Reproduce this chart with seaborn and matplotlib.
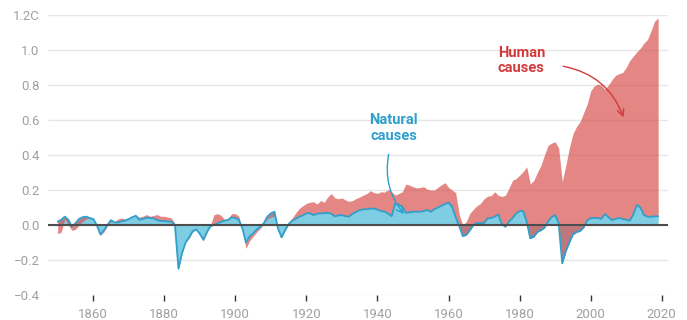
import numpy as np
import pandas as pd
import matplotlib
matplotlib.use("Agg")
import matplotlib.pyplot as plt
import seaborn as sns

# --- Data (deg C) ---
years = list(range(1850, 2020))

natural = [
    0.020, 0.030, 0.048, 0.030, -0.010, 0.010, 0.035, 0.045, 0.048, 0.040,   # 1850s
    0.035, 0.000, -0.053, -0.030, 0.000, 0.028, 0.015, 0.015, 0.022, 0.025,  # 1860s
    0.034, 0.045, 0.053, 0.030, 0.035, 0.042, 0.040, 0.038, 0.028, 0.023,   # 1870s
    0.023, 0.020, 0.019, 0.000, -0.250, -0.160, -0.100, -0.070, -0.035, -0.025,  # 1880s
    -0.050, -0.084, -0.040, -0.006, 0.000, 0.010, 0.019, 0.025, 0.030, 0.044,  # 1890s
    0.040, 0.030, -0.020, -0.100, -0.065, -0.048, -0.025, -0.010, 0.010, 0.048,  # 1900s
    0.067, 0.076, -0.020, -0.070, -0.030, 0.005, 0.025, 0.035, 0.048, 0.055,  # 1910s
    0.067, 0.067, 0.057, 0.065, 0.067, 0.067, 0.070, 0.065, 0.050, 0.055,   # 1920s
    0.057, 0.050, 0.048, 0.065, 0.075, 0.085, 0.090, 0.090, 0.093, 0.095,   # 1930s
    0.088, 0.080, 0.076, 0.065, 0.051, 0.124, 0.115, 0.105, 0.070, 0.072,   # 1940s
    0.076, 0.076, 0.076, 0.080, 0.086, 0.076, 0.090, 0.100, 0.110, 0.120,   # 1950s
    0.128, 0.105, 0.045, -0.005, -0.063, -0.057, -0.030, 0.000, 0.012, 0.010,  # 1960s
    0.012, 0.038, 0.040, 0.048, 0.060, 0.005, -0.010, 0.019, 0.040, 0.065,  # 1970s
    0.080, 0.080, 0.019, -0.076, -0.067, -0.040, -0.030, -0.015, 0.020, 0.045,  # 1980s
    0.057, 0.010, -0.219, -0.150, -0.100, -0.055, -0.040, -0.035, -0.015, 0.025,  # 1990s
    0.040, 0.040, 0.040, 0.035, 0.063, 0.045, 0.028, 0.035, 0.040, 0.035,   # 2000s
    0.030, 0.025, 0.060, 0.115, 0.100, 0.057, 0.048, 0.047, 0.050, 0.050,   # 2010s
]

total = [
    -0.050, -0.040, 0.035, 0.000, -0.030, -0.025, 0.000, 0.020, 0.035, 0.040,  # 1850s
    0.030, -0.010, -0.060, -0.040, -0.005, 0.020, 0.020, 0.035, 0.040, 0.035,  # 1860s
    0.040, 0.050, 0.055, 0.045, 0.050, 0.060, 0.050, 0.055, 0.060, 0.050,   # 1870s
    0.050, 0.045, 0.040, 0.010, -0.250, -0.160, -0.100, -0.075, -0.040, -0.025,  # 1880s
    -0.050, -0.090, -0.045, 0.000, 0.060, 0.065, 0.055, 0.030, 0.040, 0.065,  # 1890s
    0.065, 0.050, -0.030, -0.133, -0.090, -0.065, -0.040, -0.020, 0.005, 0.035,  # 1900s
    0.045, 0.050, -0.030, -0.060, -0.020, 0.015, 0.040, 0.070, 0.095, 0.110,  # 1910s
    0.124, 0.130, 0.133, 0.120, 0.140, 0.130, 0.160, 0.180, 0.155, 0.150,   # 1920s
    0.155, 0.143, 0.135, 0.140, 0.152, 0.160, 0.171, 0.180, 0.196, 0.185,   # 1930s
    0.181, 0.190, 0.188, 0.203, 0.190, 0.171, 0.180, 0.190, 0.234, 0.228,   # 1940s
    0.219, 0.212, 0.215, 0.219, 0.205, 0.200, 0.200, 0.215, 0.230, 0.242,   # 1950s
    0.215, 0.200, 0.185, 0.060, 0.000, 0.020, 0.067, 0.090, 0.110, 0.124,   # 1960s
    0.150, 0.165, 0.168, 0.190, 0.170, 0.163, 0.170, 0.210, 0.255, 0.265,   # 1970s
    0.285, 0.305, 0.333, 0.235, 0.255, 0.300, 0.340, 0.400, 0.455, 0.468,   # 1980s
    0.476, 0.440, 0.248, 0.340, 0.440, 0.520, 0.562, 0.590, 0.640, 0.690,   # 1990s
    0.765, 0.795, 0.805, 0.800, 0.775, 0.800, 0.830, 0.855, 0.865, 0.872,   # 2000s
    0.900, 0.940, 0.965, 0.990, 1.010, 1.040, 1.060, 1.110, 1.165, 1.183,   # 2010s
]

y_ticks = [-0.4, -0.2, 0.0, 0.2, 0.4, 0.6, 0.8, 1.0, 1.2]
y_tick_labels = ["\u22120.4", "\u22120.2", "0.0", "0.2", "0.4", "0.6", "0.8", "1.0", "1.2C"]
x_ticks = [1860, 1880, 1900, 1920, 1940, 1960, 1980, 2000, 2020]

df = pd.DataFrame({"year": years, "natural": natural, "total": total})

# --- Style ---
sns.set_theme(style="white")
plt.rcParams["font.family"] = ["Roboto", "DejaVu Sans"]

BLUE_FILL = "#7fcde3"
BLUE_LINE = "#2f9fcc"
RED_FILL = "#d9534f"
RED_TEXT = "#d23a3a"
GREY = "#a0a0a0"

fig = plt.figure(figsize=(6.87, 3.2), dpi=100)
ax = fig.add_axes([0.070, 0.078, 0.902, 0.875])

# natural contribution, filled from zero
ax.fill_between(df["year"], 0, df["natural"], color=BLUE_FILL, lw=0, zorder=2)
# human contribution stacked on top of natural
ax.fill_between(df["year"], df["natural"], df["total"], color=RED_FILL, alpha=0.7, lw=0, zorder=3)
sns.lineplot(data=df, x="year", y="natural", color=BLUE_LINE, lw=1.3, ax=ax, zorder=4)

ax.axhline(0, color="#4d4d4d", lw=1.5, zorder=5)

ax.set_xlim(1847.3, 2021.7)
ax.set_ylim(-0.4, 1.2)
ax.set_yticks(y_ticks)
ax.set_yticklabels(y_tick_labels)
ax.set_xticks(x_ticks)
ax.set_xlabel("")
ax.set_ylabel("")

ax.grid(axis="y", color="#e6e6e6", lw=1, zorder=0)
ax.grid(axis="x", visible=False)
for s in ax.spines.values():
    s.set_visible(False)
ax.tick_params(axis="y", length=0, pad=6, labelsize=9.5, labelcolor=GREY)
ax.tick_params(axis="x", length=4, width=1, color="#333333", direction="out",
               pad=5, labelsize=9.5, labelcolor=GREY, bottom=True)

# --- Annotations ---
ax.text(1944.5, 0.555, "Natural\ncauses", color=BLUE_LINE, fontsize=10.5,
        fontweight="bold", ha="center", va="center", linespacing=1.15)
ax.annotate("", xy=(1948.0, 0.05), xytext=(1943.3, 0.42),
            arrowprops=dict(arrowstyle="->", color=BLUE_LINE, lw=1,
                            connectionstyle="arc3,rad=0.25"), zorder=6)

ax.text(1980.5, 0.94, "Human\ncauses", color=RED_TEXT, fontsize=10.5,
        fontweight="bold", ha="center", va="center", linespacing=1.15)
ax.annotate("", xy=(2009.5, 0.6), xytext=(1991.5, 0.91),
            arrowprops=dict(arrowstyle="->", color=RED_TEXT, lw=1,
                            connectionstyle="arc3,rad=-0.3"), zorder=6)

fig.savefig("out.png", dpi=100)
